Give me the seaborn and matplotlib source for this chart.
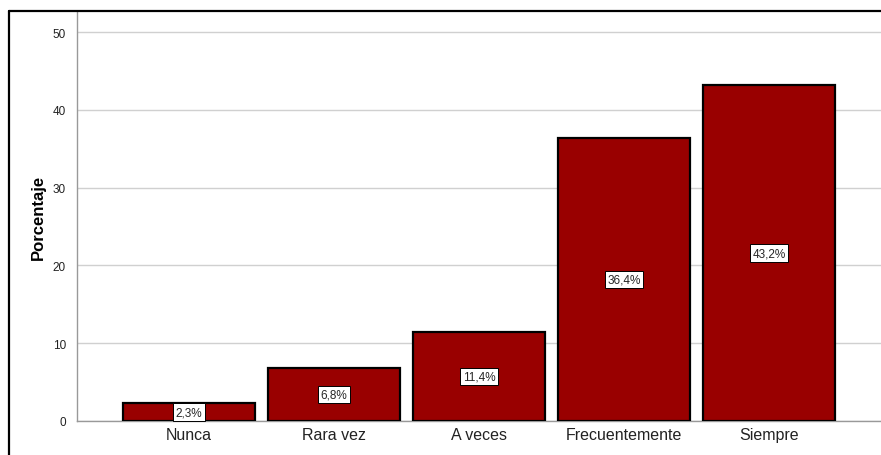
import matplotlib
matplotlib.use("Agg")
import matplotlib.pyplot as plt
import seaborn as sns
from matplotlib.lines import Line2D

categorias = ["Nunca", "Rara vez", "A veces", "Frecuentemente", "Siempre"]
porcentajes = [2.3, 6.8, 11.4, 36.4, 43.2]
yticks = [0, 10, 20, 30, 40, 50]

sns.set_style("white")
plt.rcParams['font.family'] = ['Liberation Sans', 'DejaVu Sans']

fig = plt.figure(figsize=(8.81, 4.56), dpi=100)
ax = fig.add_axes([77 / 881, 34 / 456, 1 - 77 / 881, (422 - 13) / 456])

sns.barplot(x=categorias, y=porcentajes, color="#990000", saturation=1,
            edgecolor="black", linewidth=1.6, width=0.91, ax=ax, zorder=3)

for i, v in enumerate(porcentajes):
    ax.text(i, v / 2, f"{v:.1f}%".replace(".", ","), ha="center", va="center",
            fontsize=8.5, zorder=5,
            bbox=dict(boxstyle="square,pad=0.22", fc="white", ec="black", lw=0.7))

ax.set_xlim(-0.77, 4.77)
ax.set_ylim(0, 52.6)
ax.set_yticks(yticks)
ax.yaxis.grid(True, color="#d0d0d0", linewidth=1, zorder=0)
ax.set_axisbelow(True)
ax.tick_params(axis="y", labelsize=8.5, length=0, pad=8, colors="#222222")
ax.tick_params(axis="x", labelsize=11.5, length=0, pad=4, colors="#222222")
ax.set_ylabel("Porcentaje", fontsize=12, fontweight="bold", labelpad=5, color="black")
ax.set_xlabel("")

for s in ["top", "right"]:
    ax.spines[s].set_visible(False)
for s in ["left", "bottom"]:
    ax.spines[s].set_color("#999999")
    ax.spines[s].set_linewidth(1)

# marco exterior
x0 = 8.5 / 881
y0 = 1 - 11.5 / 456
fig.add_artist(Line2D([x0, x0], [0, y0], transform=fig.transFigure, color="black", lw=1.6))
fig.add_artist(Line2D([x0, 1], [y0, y0], transform=fig.transFigure, color="black", lw=1.6))

fig.savefig("out.png", dpi=100)
